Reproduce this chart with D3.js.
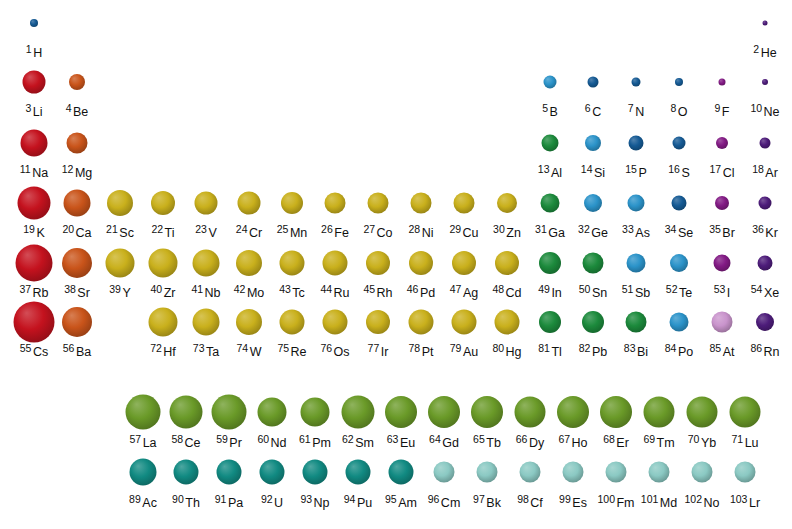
<!DOCTYPE html>
<html><head><meta charset="utf-8">
<script src="https://cdn.jsdelivr.net/npm/d3@7"></script>
<style>
html,body{margin:0;padding:0;background:#fff;}
svg{display:block;}
text{font-family:"Liberation Sans Narrow","Arial Narrow","Liberation Sans",Arial,sans-serif;fill:#111;}
</style></head>
<body>
<svg id="chart" width="792" height="529"></svg>
<script>
// ---- data ----
const symbols = ["H","He","Li","Be","B","C","N","O","F","Ne","Na","Mg","Al","Si","P","S","Cl","Ar",
"K","Ca","Sc","Ti","V","Cr","Mn","Fe","Co","Ni","Cu","Zn","Ga","Ge","As","Se","Br","Kr",
"Rb","Sr","Y","Zr","Nb","Mo","Tc","Ru","Rh","Pd","Ag","Cd","In","Sn","Sb","Te","I","Xe",
"Cs","Ba","La","Ce","Pr","Nd","Pm","Sm","Eu","Gd","Tb","Dy","Ho","Er","Tm","Yb","Lu",
"Hf","Ta","W","Re","Os","Ir","Pt","Au","Hg","Tl","Pb","Bi","Po","At","Rn",
"Fr","Ra","Ac","Th","Pa","U","Np","Pu","Am","Cm","Bk","Cf","Es","Fm","Md","No","Lr"];

// apparent sphere diameter (relative size) per element, null = not drawn
const sizes = [8,5,23,16,13,11,9,8,7,6,27,21,17,16,15,13,12,11,
33,27,26,24,23,23,22,21,21,21,21,20,19,18,17,15,14,13,
37,30,29,29,27,26,25,25,24,24,24,24,22,21,19,18,17,15,
41,30,35,33,35,29,29,33,32,32,32,31,32,32,31,31,31,
29,27,26,25,25,24,25,25,25,22,22,21,19,21,18,
null,null,27,25,25,25,25,25,25,21,21,21,21,21,21,21,21];

const categories = {
  alkali:["Li","Na","K","Rb","Cs"],
  alkaline:["Be","Mg","Ca","Sr","Ba"],
  postTransition:["Al","Ga","In","Sn","Tl","Pb","Bi"],
  metalloid:["B","Si","Ge","As","Sb","Te","Po"],
  nonmetal:["H","C","N","O","P","S","Se"],
  halogen:["F","Cl","Br","I"],
  noble:["He","Ne","Ar","Kr","Xe","Rn"],
  astatine:["At"],
  lanthanide:["La","Ce","Pr","Nd","Pm","Sm","Eu","Gd","Tb","Dy","Ho","Er","Tm","Yb","Lu"],
  actinide:["Ac","Th","Pa","U","Np","Pu","Am"],
  lateActinide:["Cm","Bk","Cf","Es","Fm","Md","No","Lr"]
};
const categoryColors = {
  alkali:"#c4121e", alkaline:"#c9541a", transition:"#c9b01c", postTransition:"#1c8a3c",
  metalloid:"#2b93c9", nonmetal:"#155a94", halogen:"#821a84", noble:"#4d1c7a",
  astatine:"#c994cc", lanthanide:"#6a9a28", actinide:"#118a82", lateActinide:"#8bc9c3"
};

// ---- layout ----
function place(z){
  if (z>=57 && z<=71) return {col: z-57, row: 7, fblock:true};
  if (z>=89 && z<=103) return {col: z-89, row: 8, fblock:true};
  if (z===1) return {col:1,row:1};
  if (z===2) return {col:18,row:1};
  if (z<=10) return {col: z<=4 ? z-2 : z+8, row:2};
  if (z<=18) return {col: z<=12 ? z-10 : z, row:3};
  if (z<=36) return {col: z-18, row:4};
  if (z<=54) return {col: z-36, row:5};
  if (z<=86) return {col: z<=56 ? z-54 : z-68, row:6};
  return {col: z-86, row:7};
}
function category(sym){
  for (const k in categories) if (categories[k].includes(sym)) return k;
  return "transition";
}

const elements = symbols.map((s,i)=>{
  const z=i+1, p=place(z);
  return {z, sym:s, size:sizes[i], cat:category(s), ...p};
}).filter(d=>d.size!=null);

const svg = d3.select("#chart");
const x = d3.scaleLinear().domain([1,18]).range([34,765]);
const xF = d3.scaleLinear().domain([0,14]).range([143,745]);
const y = d3.scaleOrdinal().domain([1,2,3,4,5,6,7,8]).range([23,82,143,203,263,322,412,472]);
const r = d3.scaleLinear().domain([0,41]).range([0,20.5]);

// gradients
const defs = svg.append("defs");
Object.entries(categoryColors).forEach(([k,c])=>{
  const g = defs.append("radialGradient").attr("id","g-"+k)
    .attr("cx","45%").attr("cy","40%").attr("r","62%").attr("fx","32%").attr("fy","28%");
  g.append("stop").attr("offset","0%").attr("stop-color", d3.interpolateRgb(c,"#ffffff")(0.25));
  g.append("stop").attr("offset","55%").attr("stop-color", c);
  g.append("stop").attr("offset","100%").attr("stop-color", d3.interpolateRgb(c,"#000000")(0.25));
});

const cx = d=> d.fblock ? xF(d.col) : x(d.col);

const g = svg.append("g");
g.selectAll("circle").data(elements).join("circle")
  .attr("cx", cx).attr("cy", d=>y(d.row)).attr("r", d=>r(d.size))
  .attr("fill", d=>`url(#g-${d.cat})`);

const labels = g.selectAll("text.lab").data(elements).join("text")
  .attr("class","lab")
  .attr("x", cx)
  .attr("y", d=>y(d.row) + (d.fblock?35:34))
  .attr("text-anchor","middle");
labels.append("tspan").attr("font-size","10.5px").attr("dy","-4").text(d=>d.z);
labels.append("tspan").attr("font-size","12.5px").attr("dy","4").attr("dx","1.5").text(d=>d.sym);
</script>
</body></html>
